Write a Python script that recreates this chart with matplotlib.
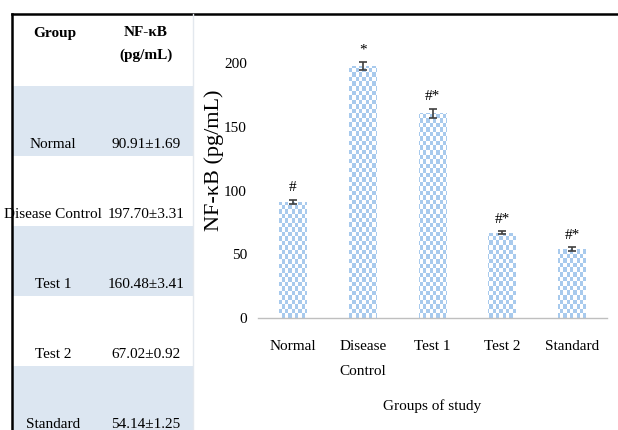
import numpy as np
import matplotlib.pyplot as plt
from matplotlib.patches import Rectangle
from matplotlib.colors import ListedColormap

plt.rcParams['font.family'] = ['Liberation Serif', 'DejaVu Serif']

groups = ['Normal', 'Disease Control', 'Test 1', 'Test 2', 'Standard']
tick_labels = ['Normal', 'Disease\nControl', 'Test 1', 'Test 2', 'Standard']
means = [90.91, 197.70, 160.48, 67.02, 54.14]
sems = [1.69, 3.31, 3.41, 0.92, 1.25]
signif = ['#', '*', '#*', '#*', '#*']

W, H = 618, 430
fig = plt.figure(figsize=(W / 100, H / 100), dpi=100)

# background layer in pixel coordinates for the table and frame lines
bg = fig.add_axes([0, 0, 1, 1])
bg.set_xlim(0, W)
bg.set_ylim(H, 0)
bg.axis('off')

bg.plot([12, W], [14, 14], color='black', lw=1.8)
bg.plot([12, 12], [14, H], color='black', lw=1.8)
bg.plot([193, 193], [14, H], color='#e3e8ee', lw=1)

row_top0 = 86
row_h = 70
for i, (g, m, s) in enumerate(zip(groups, means, sems)):
    top = row_top0 + i * row_h
    if i % 2 == 0:
        bg.add_patch(Rectangle((13, top), 180, row_h, color='#dce6f1', lw=0))
    bg.text(53, top + 59, g, ha='center', va='center', fontsize=11)
    bg.text(146, top + 59, f'{m:.2f}±{s:.2f}', ha='center', va='center', fontsize=11)

bg.text(55, 33, 'Group', ha='center', va='center', fontsize=11, fontweight='bold')
bg.text(146, 33, 'NF-κB', ha='center', va='center', fontsize=11, fontweight='bold')
bg.text(146, 55, '(pg/mL)', ha='center', va='center', fontsize=11, fontweight='bold')

# bar chart
ax = fig.add_axes([258 / W, 1 - 318 / H, 349 / W, 281 / H])
ax.patch.set_alpha(0)
x = np.arange(len(groups))
ymax = 281 / 1.275
ax.set_xlim(-0.5, 4.5)
ax.set_ylim(0, ymax)

bars = ax.bar(x, means, width=0.4, color='none', lw=0)

# checkered fill
nc, nr = 104, 62
checker = (np.add.outer(np.arange(nr), np.arange(nc)) % 2)
cmap = ListedColormap(['#a8caed', 'white'])
for b in bars:
    im = ax.imshow(checker, cmap=cmap, extent=(-0.5, 4.5, 0, ymax),
                   aspect='auto', interpolation='nearest', zorder=1)
    im.set_clip_path(b)

ax.errorbar(x, means, yerr=sems, fmt='none', ecolor='#404040',
            elinewidth=1.2, capsize=3, capthick=1.2, zorder=3)

for xi, m, s, t in zip(x, means, sems, signif):
    ax.annotate(t, (xi, m + s), xytext=(0, 4), textcoords='offset points',
                ha='center', va='bottom', fontsize=11)

for side in ['top', 'right', 'left']:
    ax.spines[side].set_visible(False)
ax.spines['bottom'].set_color('#bfbfbf')
ax.spines['bottom'].set_linewidth(1)

ax.set_xticks(x)
ax.set_xticklabels(tick_labels, fontsize=11, linespacing=2.2)
ax.set_yticks([0, 50, 100, 150, 200])
ax.tick_params(axis='both', length=0, labelsize=11)
ax.tick_params(axis='x', pad=16)
ax.tick_params(axis='y', pad=8)

ax.set_xlabel('Groups of study', fontsize=11)
ax.xaxis.set_label_coords(0.5, -0.29)
ax.set_ylabel('NF-κB (pg/mL)', fontsize=16)
ax.yaxis.label.set_va('center')
ax.yaxis.set_label_coords(-0.125, 0.562)

fig.savefig('out.png', dpi=100)
